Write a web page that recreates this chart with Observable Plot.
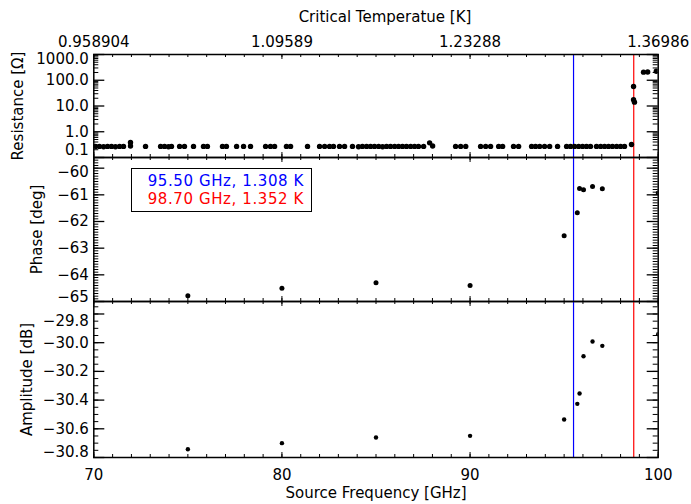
<!DOCTYPE html>
<html><head><meta charset="utf-8">
<script src="https://cdn.jsdelivr.net/npm/d3@7"></script>
<script src="https://cdn.jsdelivr.net/npm/@observablehq/plot@0.6"></script>
<style>
body{margin:0;background:#fff;}
#chart{position:relative;width:691px;height:504px;font-family:"DejaVu Sans",sans-serif;color:#000;}
#chart svg{position:absolute;left:0;}
#legend{position:absolute;left:131px;top:168px;width:181px;height:44px;border:1px solid #000;box-sizing:border-box;font-size:15px;line-height:17.5px;letter-spacing:0.6px;text-align:right;padding:4px 7px 0 0;background:#fff;}
</style></head><body><div id="chart"><div id="legend"></div></div>
<script>
// ---- data ----
const resFreq = [
  70.09,70.30,70.52,70.73,70.94,71.15,71.37,71.58,71.95,71.95,
  72.75,73.55,73.76,73.97,74.13,74.56,74.82,75.30,75.83,76.04,
  76.84,77.05,77.59,77.96,78.33,79.13,79.39,79.61,80.24,80.46,
  81.36,82.00,82.27,82.53,82.74,83.06,83.33,83.75,84.07,84.28,
  84.50,84.71,84.92,85.14,85.35,85.56,85.77,85.99,86.20,86.41,
  86.62,86.84,87.05,87.26,87.53,87.85,88.01,89.23,89.50,89.77,
  90.56,90.83,91.09,91.52,91.73,92.31,92.58,93.27,93.48,93.70,
  93.96,94.23,94.65,95.13,95.34,95.55,95.77,95.98,96.19,96.40,
  96.72,96.94,97.15,97.36,97.57,97.79,98.00,98.21,98.58,98.69,
  98.69,98.74,99.22,99.44,99.90];
const resOhm = [
  0.27,0.27,0.26,0.27,0.27,0.26,0.27,0.27,0.38,0.28,
  0.27,0.27,0.27,0.26,0.27,0.27,0.27,0.27,0.27,0.27,
  0.27,0.27,0.27,0.27,0.27,0.27,0.27,0.27,0.27,0.27,
  0.27,0.27,0.27,0.27,0.27,0.27,0.27,0.27,0.26,0.27,
  0.27,0.27,0.27,0.27,0.26,0.27,0.27,0.27,0.27,0.27,
  0.27,0.27,0.27,0.27,0.27,0.37,0.28,0.27,0.27,0.27,
  0.27,0.27,0.27,0.27,0.27,0.27,0.27,0.27,0.27,0.27,
  0.27,0.27,0.27,0.27,0.27,0.27,0.27,0.27,0.27,0.27,
  0.27,0.27,0.27,0.27,0.27,0.27,0.27,0.27,0.32,57,
  17.4,14.1,206,210,224];
const vnaFreq  = [75, 80, 85, 90, 95, 95.70, 95.82, 96.03, 96.51, 97.03, 100];
const phaseDeg = [-64.78, -64.50, -64.30, -64.40, -62.53, -61.67, -60.76, -60.81, -60.69, -60.77, -60.93];
const ampDb    = [-30.742, -30.700, -30.661, -30.649, -30.535, -30.426, -30.354, -30.094, -29.992, -30.022, -29.941];
const markerFreq  = [95.5, 98.7];
const markerColor = ["#0000ff", "#ff0000"];
const legendLabels = ["95.50 GHz, 1.308 K", "98.70 GHz, 1.352 K"];
const freqTicks = [70, 80, 90, 100];
const freqTickLabels = ["70", "80", "90", "100"];
const tempTickLabels = ["0.958904", "1.09589", "1.23288", "1.36986"];
const resTicks = [0.1, 1, 10, 100, 1000];
const resTickLabels = ["0.1", "1.0", "10.0", "100.0", "1000.0"];
const phaseTicks = [-65, -64, -63, -62, -61, -60];
const phaseTickLabels = ["−65", "−64", "−63", "−62", "−61", "−60"];
const ampTicks = [-30.8, -30.6, -30.4, -30.2, -30.0, -29.8];
const ampTickLabels = ["−30.8", "−30.6", "−30.4", "−30.2", "−30.0", "−29.8"];

// ---- layout ----
const W = 691, ML = 93.3, MR = 33.3, FW = W - ML - MR;
const FONT = {background: "transparent", overflow: "visible", fontFamily: "DejaVu Sans, sans-serif", fontSize: "15px", color: "#000"};
const xMinor = d3.range(70, 100.5, 1);
const resMinor = [];
for (const k of [-1, 0, 1, 2]) for (let m = 2; m <= 9; m++) resMinor.push(m * Math.pow(10, k));
const phaseMinor = d3.range(0, 55).map(i => -65 + i * 0.1);
const ampMinor = d3.range(0, 22).map(i => -30.8 + i * 0.05);

function xTicks(PH) {
  return [
    Plot.tickX(xMinor, {x: d => d, insetTop: PH - 3, stroke: "#000"}),
    Plot.tickX(xMinor, {x: d => d, insetBottom: PH - 3, stroke: "#000"}),
    Plot.tickX(freqTicks, {x: d => d, insetTop: PH - 5, stroke: "#000"}),
    Plot.tickX(freqTicks, {x: d => d, insetBottom: PH - 5, stroke: "#000"})
  ];
}
function yTicks(major, minor) {
  return [
    Plot.tickY(minor, {y: d => d, insetRight: FW - 5, stroke: "#000"}),
    Plot.tickY(minor, {y: d => d, insetLeft: FW - 5, stroke: "#000"}),
    Plot.tickY(major, {y: d => d, insetRight: FW - 11, stroke: "#000", strokeWidth: 1.3}),
    Plot.tickY(major, {y: d => d, insetLeft: FW - 11, stroke: "#000", strokeWidth: 1.3})
  ];
}
function yLabels(ticks, labels, dyFirst, dyLast) {
  const n = ticks.length;
  const idx = d3.range(n);
  const base = {y: i => ticks[i], text: i => labels[i], frameAnchor: "left", textAnchor: "end", lineAnchor: "middle", dx: -5};
  return [
    Plot.text(idx.filter(i => i > 0 && i < n - 1), base),
    Plot.text([0], {...base, dy: dyFirst}),
    Plot.text([n - 1], {...base, dy: dyLast})
  ];
}
function yTitle(t, dx) {
  return Plot.text([t], {text: d => d, frameAnchor: "left", rotate: -90, textAnchor: "middle", lineAnchor: "middle", dx, letterSpacing: 0.4});
}
function markers() {
  return markerFreq.map((f, i) => Plot.ruleX([f], {x: d => d, stroke: markerColor[i], strokeWidth: 1.2}));
}
function place(svg, top) { svg.style.top = top + "px"; document.getElementById("chart").appendChild(svg); }

// ---- top panel: resistance ----
const PH1 = 103;
place(Plot.plot({
  width: W, height: 157, marginLeft: ML, marginRight: MR, marginTop: 54, marginBottom: 0,
  x: {domain: [70, 100], axis: null},
  y: {type: "log", domain: [0.1, 1000], axis: null},
  style: FONT,
  marks: [
    ...markers(),
    Plot.dot(resFreq.map((f, i) => [f, resOhm[i]]), {x: d => d[0], y: d => d[1], r: 2.7, fill: "#000", clip: true}),
    ...xTicks(PH1),
    ...yTicks(resTicks, resMinor),
    Plot.frame({stroke: "#000", strokeWidth: 1.5}),
    ...yLabels(resTicks, resTickLabels, -7, 5),
    Plot.text(d3.range(4), {x: i => freqTicks[i], text: i => tempTickLabels[i], frameAnchor: "top", lineAnchor: "middle", dy: -12}),
    Plot.text(["Critical Temperatue [K]"], {text: d => d, frameAnchor: "top", lineAnchor: "middle", dy: -37, dx: 9, letterSpacing: 0.3}),
    yTitle("Resistance [Ω]", -76)
  ]
}), 0);

// ---- middle panel: phase ----
const PH2 = 144;
place(Plot.plot({
  width: W, height: PH2, marginLeft: ML, marginRight: MR, marginTop: 0, marginBottom: 0,
  x: {domain: [70, 100], axis: null},
  y: {domain: [-65, -59.6], axis: null},
  style: FONT,
  marks: [
    ...markers(),
    Plot.dot(vnaFreq.map((f, i) => [f, phaseDeg[i]]), {x: d => d[0], y: d => d[1], r: 2.5, fill: "#000", clip: true}),
    ...xTicks(PH2),
    ...yTicks(phaseTicks, phaseMinor),
    Plot.frame({stroke: "#000", strokeWidth: 1.5}),
    ...yLabels(phaseTicks, phaseTickLabels, -4, 4.5),
    yTitle("Phase [deg]", -57)
  ]
}), 157);

// ---- bottom panel: amplitude ----
const PH3 = 156;
place(Plot.plot({
  width: W, height: 203, marginLeft: ML, marginRight: MR, marginTop: 0, marginBottom: 47,
  x: {domain: [70, 100], axis: null},
  y: {domain: [-30.8, -29.713], axis: null},
  style: FONT,
  marks: [
    ...markers(),
    Plot.dot(vnaFreq.map((f, i) => [f, ampDb[i]]), {x: d => d[0], y: d => d[1], r: 2.2, fill: "#000", clip: true}),
    ...xTicks(PH3),
    ...yTicks(ampTicks, ampMinor),
    Plot.frame({stroke: "#000", strokeWidth: 1.5}),
    ...yLabels(ampTicks, ampTickLabels, -5.5, 7),
    Plot.text(d3.range(4), {x: i => freqTicks[i], text: i => freqTickLabels[i], frameAnchor: "bottom", lineAnchor: "middle", dy: 18}),
    Plot.text(["Source Frequency [GHz]"], {text: d => d, frameAnchor: "bottom", lineAnchor: "middle", dy: 36, letterSpacing: 0.3}),
    yTitle("Amplitude [dB]", -67)
  ]
}), 301);

// ---- legend ----
document.getElementById("legend").innerHTML = legendLabels.map((t, i) => `<div style="color:${markerColor[i]}">${t}</div>`).join("");
document.getElementById("chart").appendChild(document.getElementById("legend"));
</script></body></html>
